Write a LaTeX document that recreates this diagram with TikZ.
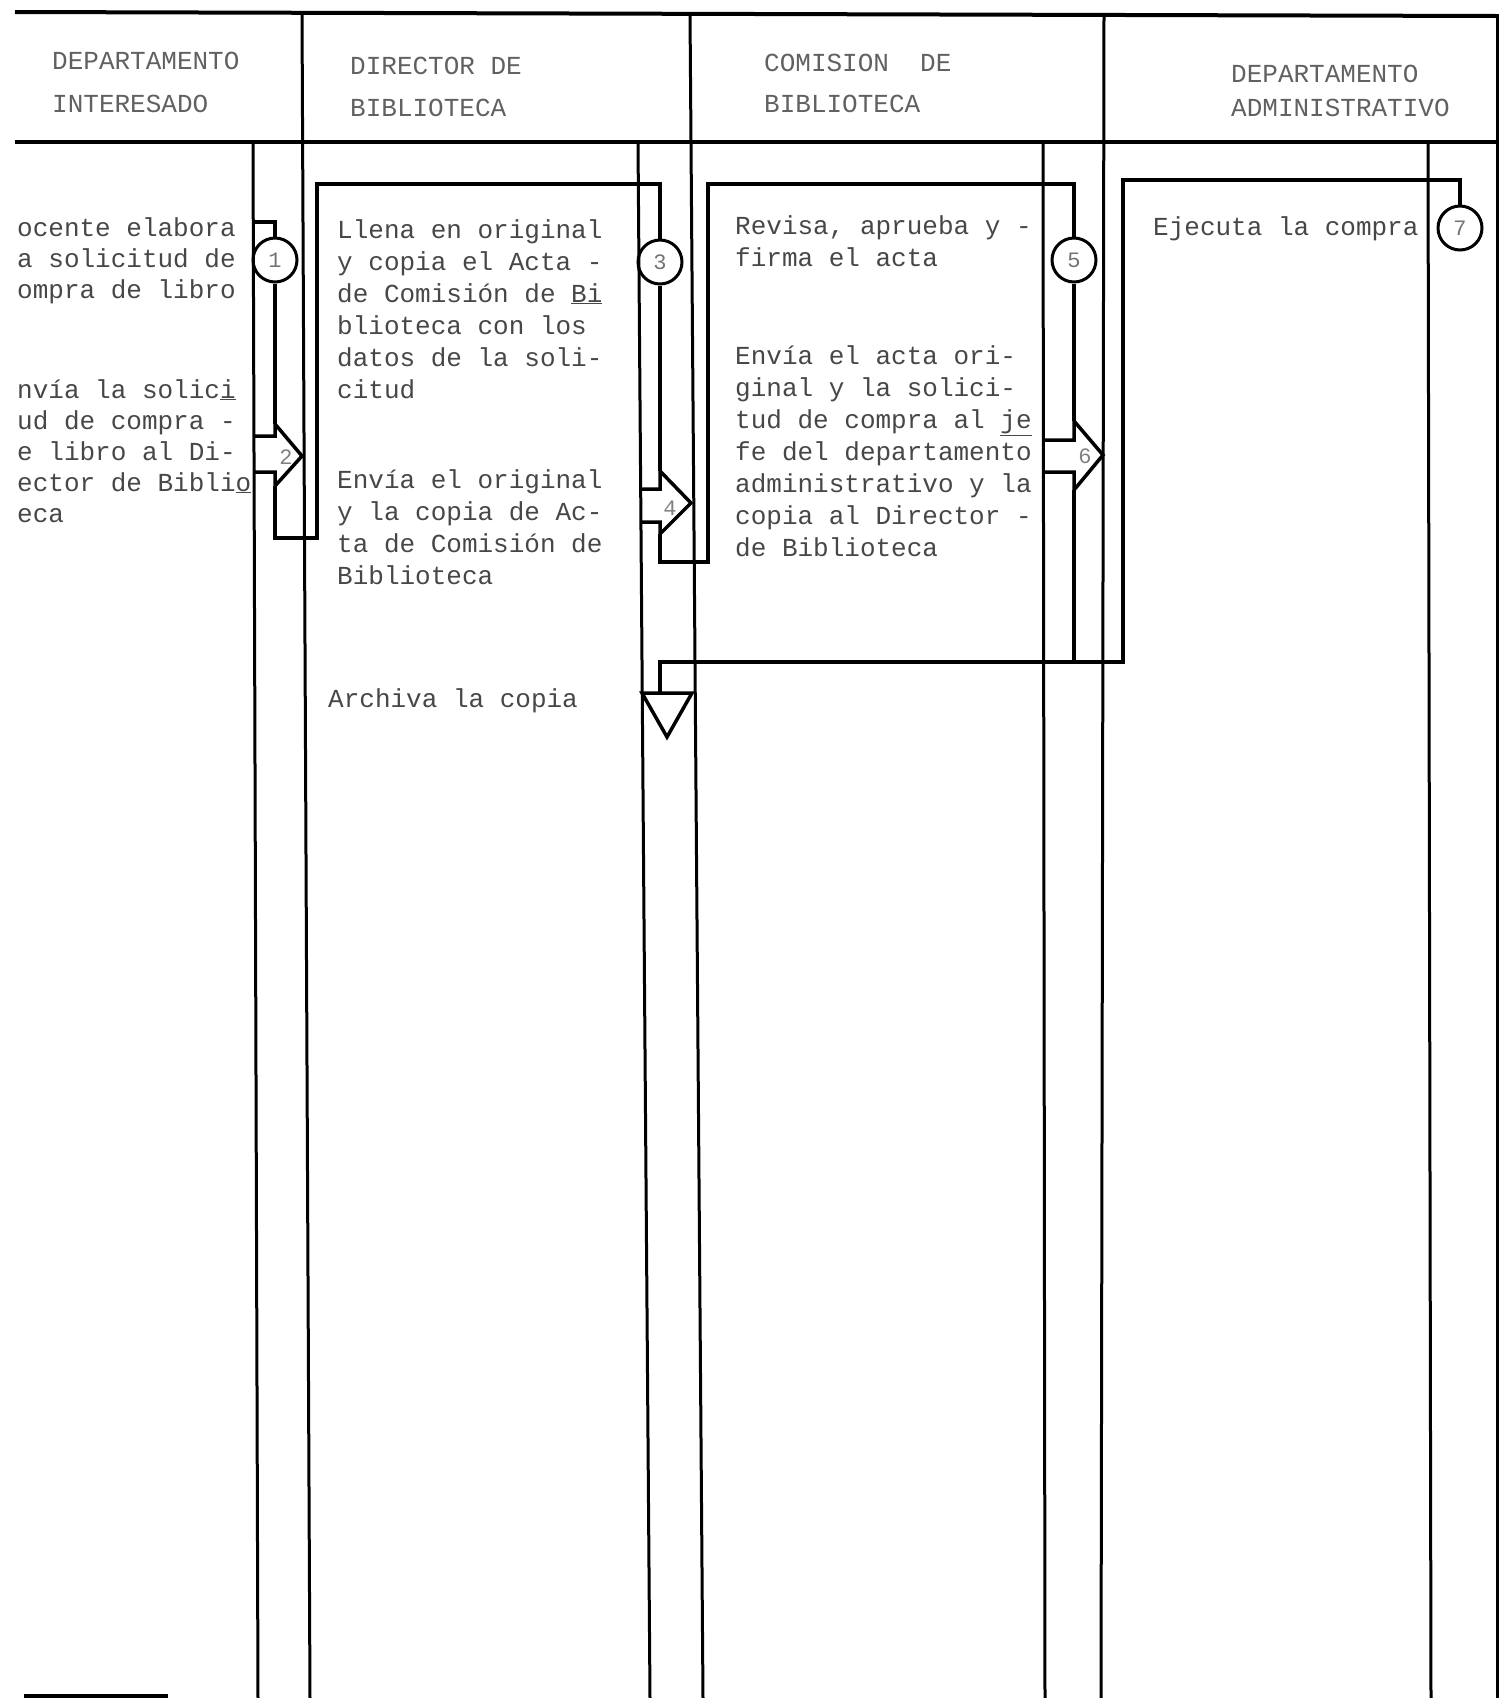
\documentclass[tikz,border=0pt]{standalone}
\usepackage{fontspec}
\newfontfamily\tw{Liberation Mono}
\begin{document}
\begin{tikzpicture}[x=1pt,y=-1pt,
  frame/.style={line width=4pt},
  laneline/.style={line width=3pt},
  conn/.style={line width=4pt, line join=miter},
  blk/.style={line width=3.5pt, line join=miter},
  stepc/.style={circle, draw, line width=3pt, minimum size=44pt, inner sep=0pt,
                font=\tw\fontsize{22}{22}\selectfont, text=black!55},
  txt/.style={anchor=base west, inner sep=0pt, font=\tw\fontsize{26}{32}\selectfont, text=black!72},
  hdr/.style={txt, text=black!62},
  lbl/.style={inner sep=0pt, font=\tw\fontsize{22}{22}\selectfont, text=black!50}
]
\path[use as bounding box] (0,0) rectangle (1506,1698);

% ---------- frame ----------
\draw[frame] (15,12) -- (1497,16);
\draw[frame] (15,142) -- (1497,142);
\draw[frame] (24,1696) -- (168,1696);
\draw[laneline] (1497,14) -- (1497,1698);
% column dividers
\draw[laneline] (302,12) -- (310,1698);
\draw[laneline] (690,13) -- (703,1698);
\draw[laneline] (1104,14) -- (1101,1698);
% symbol lanes
\draw[laneline] (253,142) -- (258,1698);
\draw[laneline] (638,142) -- (650,1698);
\draw[laneline] (1043,142) -- (1045,1698);
\draw[laneline] (1428,142) -- (1431,1698);

% ---------- headers ----------
\node[hdr] (h1a) at (52,69) {DEPARTAMENTO};
\node[hdr] (h1b) at (52,112) {INTERESADO};
\node[hdr] (h2a) at (350,74) {DIRECTOR DE};
\node[hdr] (h2b) at (350,116) {BIBLIOTECA};
\node[hdr] (h3a) at (764,71) {COMISION\ \ DE};
\node[hdr] (h3b) at (764,112) {BIBLIOTECA};
\node[hdr] (h4a) at (1231,82) {DEPARTAMENTO};
\node[hdr] (h4b) at (1231,116) {ADMINISTRATIVO};

% ---------- column 1 text ----------
\node[txt] (t11) at (17,236) {ocente elabora};
\node[txt] (t12) at (17,267) {a solicitud de};
\node[txt] (t13) at (17,298) {ompra de libro};
\node[txt] (t14) at (17,398) {nvía la solic\underline{i}};
\node[txt] (t15) at (17,429) {ud de compra -};
\node[txt] (t16) at (17,460) {e libro al Di-};
\node[txt] (t17) at (17,491) {ector de Bibli\underline{o}};
\node[txt] (t18) at (17,522) {eca};

% ---------- column 2 text ----------
\node[txt] (t21) at (337,238) {Llena en original};
\node[txt] (t22) at (337,270) {y copia el Acta -};
\node[txt] (t23) at (337,302) {de Comisión de \underline{Bi}};
\node[txt] (t24) at (337,334) {blioteca con los};
\node[txt] (t25) at (337,366) {datos de la soli-};
\node[txt] (t26) at (337,398) {citud};
\node[txt] (t27) at (337,488) {Envía el original};
\node[txt] (t28) at (337,520) {y la copia de Ac-};
\node[txt] (t29) at (337,552) {ta de Comisión de};
\node[txt] (t2a) at (337,584) {Biblioteca};
\node[txt] (t2b) at (328,707) {Archiva la copia};

% ---------- column 3 text ----------
\node[txt] (t31) at (735,234) {Revisa, aprueba y -};
\node[txt] (t32) at (735,266) {firma el acta};
\node[txt] (t33) at (735,364) {Envía el acta ori-};
\node[txt] (t34) at (735,396) {ginal y la solici-};
\node[txt] (t35) at (735,428) {tud de compra al \underline{je}};
\node[txt] (t36) at (735,460) {fe del departamento};
\node[txt] (t37) at (735,492) {administrativo y la};
\node[txt] (t38) at (735,524) {copia al Director -};
\node[txt] (t39) at (735,556) {de Biblioteca};

% ---------- column 4 text ----------
\node[txt] (t41) at (1153,235) {Ejecuta la compra};

% ---------- operation circles ----------
\node[stepc] (c1) at (275,260) {1};
\node[stepc] (c3) at (660,262) {3};
\node[stepc] (c5) at (1074,260) {5};
\node[stepc] (c7) at (1460,228) {7};

% ---------- transport arrows ----------
\draw[blk] (254,436) -- (275,436) -- (275,424) -- (302,456) -- (275,486) -- (275,472) -- (254,472);
\node[lbl] (n2) at (286,457) {2};
\draw[blk] (640,489) -- (660,489) -- (660,471) -- (691,503) -- (660,534) -- (660,522) -- (640,522);
\node[lbl] (n4) at (670,508) {4};
\draw[blk] (1043,440) -- (1074,440) -- (1074,421) -- (1103,455) -- (1074,490) -- (1074,472) -- (1043,472);
\node[lbl] (n6) at (1085,456) {6};

% ---------- archive triangle ----------
\draw[blk] (642,693) -- (692,693) -- (667,737) -- cycle;
\coordinate (tri) at (660,692);

% ---------- connector points ----------
\coordinate (a2in) at (275,424);
\coordinate (a2out) at (275,486);
\coordinate (a4in) at (660,471);
\coordinate (a4out) at (660,534);
\coordinate (a6in) at (1074,421);
\coordinate (a6out) at (1074,490);
\coordinate (q1) at (254,222);
\coordinate (q2) at (275,222);
\coordinate (p1) at (275,538);
\coordinate (p2) at (317,538);
\coordinate (p3) at (317,184);
\coordinate (p4) at (660,184);
\coordinate (r1) at (660,562);
\coordinate (r2) at (708,562);
\coordinate (r3) at (708,184);
\coordinate (r4) at (1074,184);
\coordinate (j6) at (1074,662);
\coordinate (m1) at (660,662);
\coordinate (m2) at (1123,662);
\coordinate (m3) at (1123,180);
\coordinate (m4) at (1460,180);

% ---------- connectors ----------
\draw[conn] (q1) -- (q2) -- (c1.north);
\draw[conn] (c1.south) -- (a2in);
\draw[conn] (a2out) -- (p1) -- (p2) -- (p3) -- (p4) -- (c3.north);
\draw[conn] (c3.south) -- (a4in);
\draw[conn] (a4out) -- (r1) -- (r2) -- (r3) -- (r4) -- (c5.north);
\draw[conn] (c5.south) -- (a6in);
\draw[conn] (a6out) -- (j6);
\draw[conn] (tri) -- (m1) -- (m2) -- (m3) -- (m4) -- (c7.north);
\end{tikzpicture}
\end{document}
